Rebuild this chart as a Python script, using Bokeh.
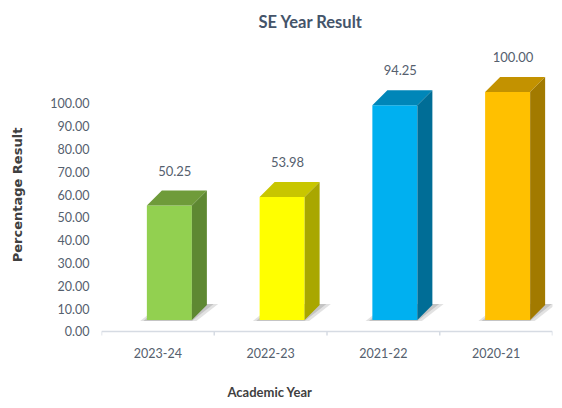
import numpy as np
from bokeh.plotting import figure
from bokeh.models import (ColumnDataSource, FixedTicker, NumeralTickFormatter,
                          LabelSet, Title, Range1d, LinearAxis)
from bokeh.core.properties import value
from bokeh.embed import file_html
from bokeh.resources import INLINE

# ---- data ----
categories = ["2023-24", "2022-23", "2021-22", "2020-21"]
values = [50.25, 53.98, 94.25, 100.00]
value_labels = ["50.25", "53.98", "94.25", "100.00"]
front_colors = ["#92d050", "#ffff00", "#00b0f0", "#ffc000"]
top_colors = ["#6f9b3a", "#c8c600", "#0086b8", "#c39200"]
side_colors = ["#5e8832", "#a9a700", "#006d96", "#a27a00"]
y_ticks = [0, 10, 20, 30, 40, 50, 60, 70, 80, 90, 100]

# ---- 3D style constants (in data units) ----
FRONT_L, FRONT_R = -0.0976, 0.3016   # front face edges relative to category centre
DEPTH_X, DEPTH_Y = 0.133, 6.58       # depth of the bars
FLOOR = 5.0                          # front face starts above the floor line
TICK_LEN = 1.754
LABEL_DX = 0.15

FONT = "Lato"
TXT = "#55606e"

n = len(categories)
centers = np.arange(n) + 0.5
vals = np.array(values)

L = centers + FRONT_L
R = centers + FRONT_R
T = FLOOR + vals

p = figure(width=562, height=408, output_backend="svg", toolbar_location=None,
           x_range=Range1d(0, n), y_range=Range1d(-7.895, 127.63),
           min_border_left=101, min_border_right=10, min_border_top=40,
           min_border_bottom=59, outline_line_color=None,
           background_fill_color="white", border_fill_color="white")

# soft shadows
sh_xs = [[l - 0.06, r + 0.04, r + DEPTH_X + 0.10, l + DEPTH_X] for l, r in zip(L, R)]
sh_ys = [[FLOOR - 0.4, FLOOR - 0.4, FLOOR + DEPTH_Y + 0.5, FLOOR + DEPTH_Y + 0.5] for _ in L]
p.patches(sh_xs, sh_ys, fill_color="#8a8a8a", fill_alpha=0.25, line_color=None)
sh2_xs = [[l - 0.03, r, r + DEPTH_X + 0.06, l + DEPTH_X] for l, r in zip(L, R)]
p.patches(sh2_xs, sh_ys, fill_color="#6a6a6a", fill_alpha=0.25, line_color=None)

# front faces
p.quad(left=L, right=R, bottom=FLOOR, top=T, fill_color=front_colors, line_color=None)
# top faces
top_xs = [[l, r, r + DEPTH_X, l + DEPTH_X] for l, r in zip(L, R)]
top_ys = [[t, t, t + DEPTH_Y, t + DEPTH_Y] for t in T]
p.patches(top_xs, top_ys, fill_color=top_colors, line_color=None)
# side faces
side_xs = [[r, r + DEPTH_X, r + DEPTH_X, r] for r in R]
side_ys = [[FLOOR, FLOOR + DEPTH_Y, t + DEPTH_Y, t] for t in T]
p.patches(side_xs, side_ys, fill_color=side_colors, line_color=None)

# category axis line and boundary ticks
bounds = np.arange(n + 1)
p.segment(x0=[0], y0=[0], x1=[n], y1=[0], line_color="#d6dbe3", line_width=1.5)
p.segment(x0=bounds, y0=0, x1=bounds, y1=-TICK_LEN, line_color="#d6dbe3", line_width=1.5)

# value labels
lab_src = ColumnDataSource(dict(x=centers + LABEL_DX, y=T + DEPTH_Y, text=value_labels))
p.add_layout(LabelSet(x="x", y="y", text="text", source=lab_src, text_align="center",
                      text_baseline="middle", y_offset=20, text_font=value(FONT),
                      text_font_size=value("13px"), text_color=TXT))

# x axis (category labels at centres)
xa = p.xaxis[0]
xa.ticker = FixedTicker(ticks=list(centers))
xa.major_label_overrides = {float(c): cat for c, cat in zip(centers, categories)}
xa.axis_line_color = None
xa.major_tick_line_color = None
xa.minor_tick_line_color = None
xa.major_tick_out = 0
xa.major_tick_in = 0
xa.major_label_standoff = -2
xa.major_label_text_font = FONT
xa.major_label_text_font_size = "12.5px"
xa.major_label_text_color = TXT

# spacer between category labels and axis title (white tick at the left edge)
spacer = LinearAxis(ticker=FixedTicker(ticks=[0]), axis_line_color=None,
                    major_tick_line_color="white", minor_tick_line_color=None,
                    major_tick_in=0, major_tick_out=18, major_label_standoff=0,
                    major_label_overrides={0: ""}, major_label_text_font_size="1px")
p.add_layout(spacer, "below")

# y axis
ya = p.yaxis[0]
ya.ticker = FixedTicker(ticks=y_ticks)
ya.formatter = NumeralTickFormatter(format="0.00")
ya.axis_line_color = None
ya.major_tick_line_color = None
ya.minor_tick_line_color = None
ya.major_tick_out = 0
ya.major_tick_in = 0
ya.major_label_standoff = 12
ya.major_label_text_font = FONT
ya.major_label_text_font_size = "12.5px"
ya.major_label_text_color = TXT
ya.axis_label = "Percentage Result"
ya.axis_label_text_font = "DejaVu Sans"
ya.axis_label_text_font_style = "bold"
ya.axis_label_text_font_size = "13px"
ya.axis_label_text_color = "#404040"
ya.axis_label_standoff = 22

p.xgrid.grid_line_color = None
p.ygrid.grid_line_color = None

# titles
p.title.text = "SE Year Result"
p.title.align = "left"
p.title.offset = 157
p.title.standoff = 17
p.title.text_font = FONT
p.title.text_font_size = "16.5px"
p.title.text_font_style = "bold"
p.title.text_color = "#44546a"

p.add_layout(Title(text="Academic Year", align="left", offset=126, text_font=FONT,
                   text_font_size="13px", text_font_style="bold",
                   text_color="#404040", standoff=6), "below")

open("out.html", "w").write(file_html(p, INLINE))
